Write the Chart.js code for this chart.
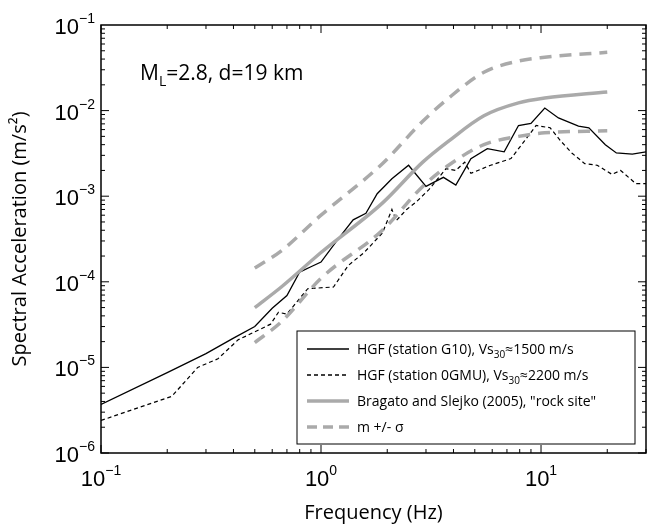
<!DOCTYPE html>
<html>
<head>
<meta charset="utf-8">
<script src="https://cdn.jsdelivr.net/npm/chart.js@4"></script>
<style>
    body { margin: 0; background: #fff; }
    #wrap { width: 649px; height: 525px; }
</style>
</head>
<body>
<div id="wrap"><canvas id="chart"></canvas></div>
<script>
// station G10 (solid black)
const g10Freq = [0.1, 0.2, 0.3, 0.4, 0.5, 0.6, 0.7, 0.8, 0.9, 1.0, 1.2, 1.4, 1.6, 1.8, 2.1, 2.5, 3.0, 3.6, 4.1, 4.8, 5.7, 6.8, 7.9, 9.0, 10.4, 12, 14.8, 16.5, 19.6, 22, 26, 30];
const g10Acc = [3.7e-6, 8.7e-6, 1.45e-5, 2.2e-5, 3.0e-5, 4.9e-5, 6.9e-5, 1.3e-4, 1.5e-4, 1.7e-4, 3.2e-4, 5.3e-4, 6.3e-4, 1.07e-3, 1.6e-3, 2.3e-3, 1.3e-3, 1.66e-3, 1.35e-3, 2.75e-3, 3.6e-3, 3.3e-3, 6.7e-3, 7.1e-3, 1.07e-2, 8.2e-3, 6.6e-3, 6.3e-3, 4.0e-3, 3.2e-3, 3.1e-3, 3.3e-3];
// station 0GMU (dashed black)
const gmuFreq = [0.1, 0.21, 0.275, 0.34, 0.42, 0.5, 0.59, 0.64, 0.7, 0.87, 1.14, 1.33, 1.57, 1.9, 2.1, 2.2, 2.45, 2.7, 3.1, 3.7, 4.1, 4.5, 4.8, 5.9, 7.3, 8.4, 9.5, 11, 12.3, 13.8, 15.8, 18, 21, 23, 27, 30];
const gmuAcc = [2.4e-6, 4.6e-6, 1.0e-5, 1.26e-5, 2.1e-5, 2.6e-5, 3.2e-5, 4.4e-5, 4.2e-5, 8.3e-5, 8.7e-5, 1.55e-4, 2.2e-4, 3.7e-4, 7e-4, 5.2e-4, 7e-4, 8.5e-4, 1.2e-3, 2.1e-3, 2.0e-3, 2.5e-3, 1.85e-3, 2.3e-3, 2.75e-3, 4.4e-3, 6.7e-3, 6.3e-3, 4.4e-3, 3.2e-3, 2.4e-3, 2.3e-3, 1.8e-3, 2.0e-3, 1.4e-3, 1.4e-3];
// Bragato and Slejko (2005)
const gmpeFreq = [0.5, 0.66, 1.0, 1.9, 2.9, 3.8, 5.5, 7.9, 10.4, 20];
const gmpeMean = [5e-5, 8.7e-5, 2.2e-4, 8.3e-4, 2.5e-3, 4.4e-3, 8.7e-3, 1.23e-2, 1.4e-2, 1.65e-2];
const gmpeUpper = [1.45e-4, 2.3e-4, 6.0e-4, 2.4e-3, 7.5e-3, 1.4e-2, 2.8e-2, 3.8e-2, 4.2e-2, 4.8e-2];
const gmpeLower = [1.95e-5, 3.4e-5, 1.1e-4, 4.0e-4, 1.3e-3, 2.3e-3, 4.0e-3, 5.0e-3, 5.5e-3, 5.8e-3];

const decades = [0.1, 1, 10];
const yDecades = [1e-6, 1e-5, 1e-4, 1e-3, 1e-2, 1e-1];
const FONT = '"Open Sans", "Liberation Sans", sans-serif';
const TICKFONT = '"Liberation Sans", Arial, sans-serif';

function pts(xs, ys) {
    return xs.map((x, i) => ({x: x, y: ys[i]}));
}
function expOf(v) {
    return String(Math.round(Math.log10(v))).replace('-', '\u2212');
}

const legendItems = [
    {main: 'HGF (station G10), Vs', sub: '30', rest: '≈1500 m/s', color: '#000', width: 1.3, dash: []},
    {main: 'HGF (station 0GMU), Vs', sub: '30', rest: '≈2200 m/s', color: '#000', width: 1.3, dash: [4, 3]},
    {main: 'Bragato and Slejko (2005), "rock site"', sub: '', rest: '', color: '#aaa', width: 3.5, dash: []},
    {main: 'm +/- σ', sub: '', rest: '', color: '#aaa', width: 3.5, dash: [10, 6]}
];

function powText(ctx, v, x, y, align) {
    ctx.font = '22px ' + TICKFONT;
    const bw = ctx.measureText('10').width;
    ctx.font = '14px ' + TICKFONT;
    const e = expOf(v);
    const ew = ctx.measureText(e).width;
    let sx = align === 'right' ? x - bw - ew : x - (bw + ew) / 2;
    ctx.font = '22px ' + TICKFONT;
    ctx.fillText('10', sx, y);
    ctx.font = '14px ' + TICKFONT;
    ctx.fillText(e, sx + bw, y - 11);
}

const decor = {
    id: 'decor',
    afterDraw(chart) {
        const ctx = chart.ctx;
        const a = chart.chartArea;
        const xs = chart.scales.x, ys = chart.scales.y;
        ctx.save();
        ctx.strokeStyle = '#000';
        ctx.lineWidth = 1.5;
        ctx.strokeRect(a.left, a.top, a.right - a.left, a.bottom - a.top);
        ctx.lineWidth = 1;
        // inward ticks
        for (let d = 0.1; d <= 10; d *= 10) {
            for (let m = 1; m <= 9; m++) {
                const v = d * m;
                if (v > 30) break;
                const p = xs.getPixelForValue(v);
                const len = m === 1 ? 8 : 4;
                ctx.beginPath();
                ctx.moveTo(p, a.bottom); ctx.lineTo(p, a.bottom - len);
                ctx.moveTo(p, a.top); ctx.lineTo(p, a.top + len);
                ctx.stroke();
            }
        }
        for (let d = 1e-6; d < 0.1; d *= 10) {
            for (let m = 1; m <= 9; m++) {
                const p = ys.getPixelForValue(d * m);
                const len = m === 1 ? 8 : 4;
                ctx.beginPath();
                ctx.moveTo(a.left, p); ctx.lineTo(a.left + len, p);
                ctx.moveTo(a.right, p); ctx.lineTo(a.right - len, p);
                ctx.stroke();
            }
        }
        // tick labels
        ctx.fillStyle = '#000';
        ctx.textBaseline = 'alphabetic';
        ctx.textAlign = 'left';
        decades.forEach(v => powText(ctx, v, xs.getPixelForValue(v), a.bottom + 33, 'center'));
        yDecades.forEach(v => powText(ctx, v, a.left - 6, ys.getPixelForValue(v) + 9, 'right'));
        // annotation
        ctx.font = '21px ' + FONT;
        let x = 140;
        ctx.fillText('M', x, 80);
        x += ctx.measureText('M').width;
        ctx.font = '14px ' + FONT;
        ctx.fillText('L', x, 86);
        x += ctx.measureText('L').width;
        ctx.font = '21px ' + FONT;
        ctx.fillText('=2.8, d=19 km', x, 80);
        // legend
        const lx = 297, ly = 331, lw = 338, lh = 113;
        ctx.fillStyle = '#fff';
        ctx.fillRect(lx, ly, lw, lh);
        ctx.strokeStyle = '#000';
        ctx.lineWidth = 1;
        ctx.strokeRect(lx, ly, lw, lh);
        legendItems.forEach((it, i) => {
            const yy = ly + 18 + i * 26;
            ctx.strokeStyle = it.color;
            ctx.lineWidth = it.width;
            ctx.setLineDash(it.dash);
            ctx.beginPath();
            ctx.moveTo(lx + 10, yy); ctx.lineTo(lx + 52, yy);
            ctx.stroke();
            ctx.setLineDash([]);
            ctx.fillStyle = '#000';
            ctx.font = '14px ' + FONT;
            let tx = lx + 60;
            ctx.fillText(it.main, tx, yy + 5);
            tx += ctx.measureText(it.main).width;
            if (it.sub) {
                ctx.font = '10px ' + FONT;
                ctx.fillText(it.sub, tx, yy + 9);
                tx += ctx.measureText(it.sub).width;
                ctx.font = '14px ' + FONT;
                ctx.fillText(it.rest, tx, yy + 5);
            }
        });
        ctx.restore();
    }
};

function line(data, color, width, dash, tension) {
    return {data: data, borderColor: color, borderWidth: width, borderDash: dash,
        pointRadius: 0, fill: false, tension: tension, cubicInterpolationMode: tension ? 'monotone' : 'default'};
}

new Chart(document.getElementById('chart'), {
    type: 'line',
    data: {
        datasets: [
            line(pts(gmpeFreq, gmpeUpper), '#aaa', 3.5, [12, 8], 0.3),
            line(pts(gmpeFreq, gmpeLower), '#aaa', 3.5, [12, 8], 0.3),
            line(pts(gmpeFreq, gmpeMean), '#aaa', 3.5, [], 0.3),
            line(pts(gmuFreq, gmuAcc), '#000', 1.2, [4, 3], 0),
            line(pts(g10Freq, g10Acc), '#000', 1.3, [], 0)
        ]
    },
    options: {
        responsive: true,
        maintainAspectRatio: false,
        animation: false,
        layout: {padding: {top: 25, right: 3, left: 0, bottom: 0}},
        plugins: {legend: {display: false}, tooltip: {enabled: false}},
        scales: {
            x: {
                type: 'logarithmic', min: 0.1, max: 30,
                grid: {display: false}, border: {display: false},
                afterBuildTicks: s => { s.ticks = decades.map(v => ({value: v})); },
                afterFit: s => { s.height = 72; },
                ticks: {callback: () => '', maxRotation: 0},
                title: {display: true, text: 'Frequency (Hz)', color: '#000', font: {size: 20, family: FONT}, padding: 0}
            },
            y: {
                type: 'logarithmic', min: 1e-6, max: 0.1,
                grid: {display: false}, border: {display: false},
                afterBuildTicks: s => { s.ticks = yDecades.map(v => ({value: v})); },
                afterFit: s => { s.width = 101; },
                ticks: {callback: () => ''},
                title: {display: true, text: 'Spectral Acceleration (m/s²)', color: '#000', font: {size: 20, family: FONT}, padding: {top: 8}}
            }
        }
    },
    plugins: [decor]
});
</script>
</body>
</html>
